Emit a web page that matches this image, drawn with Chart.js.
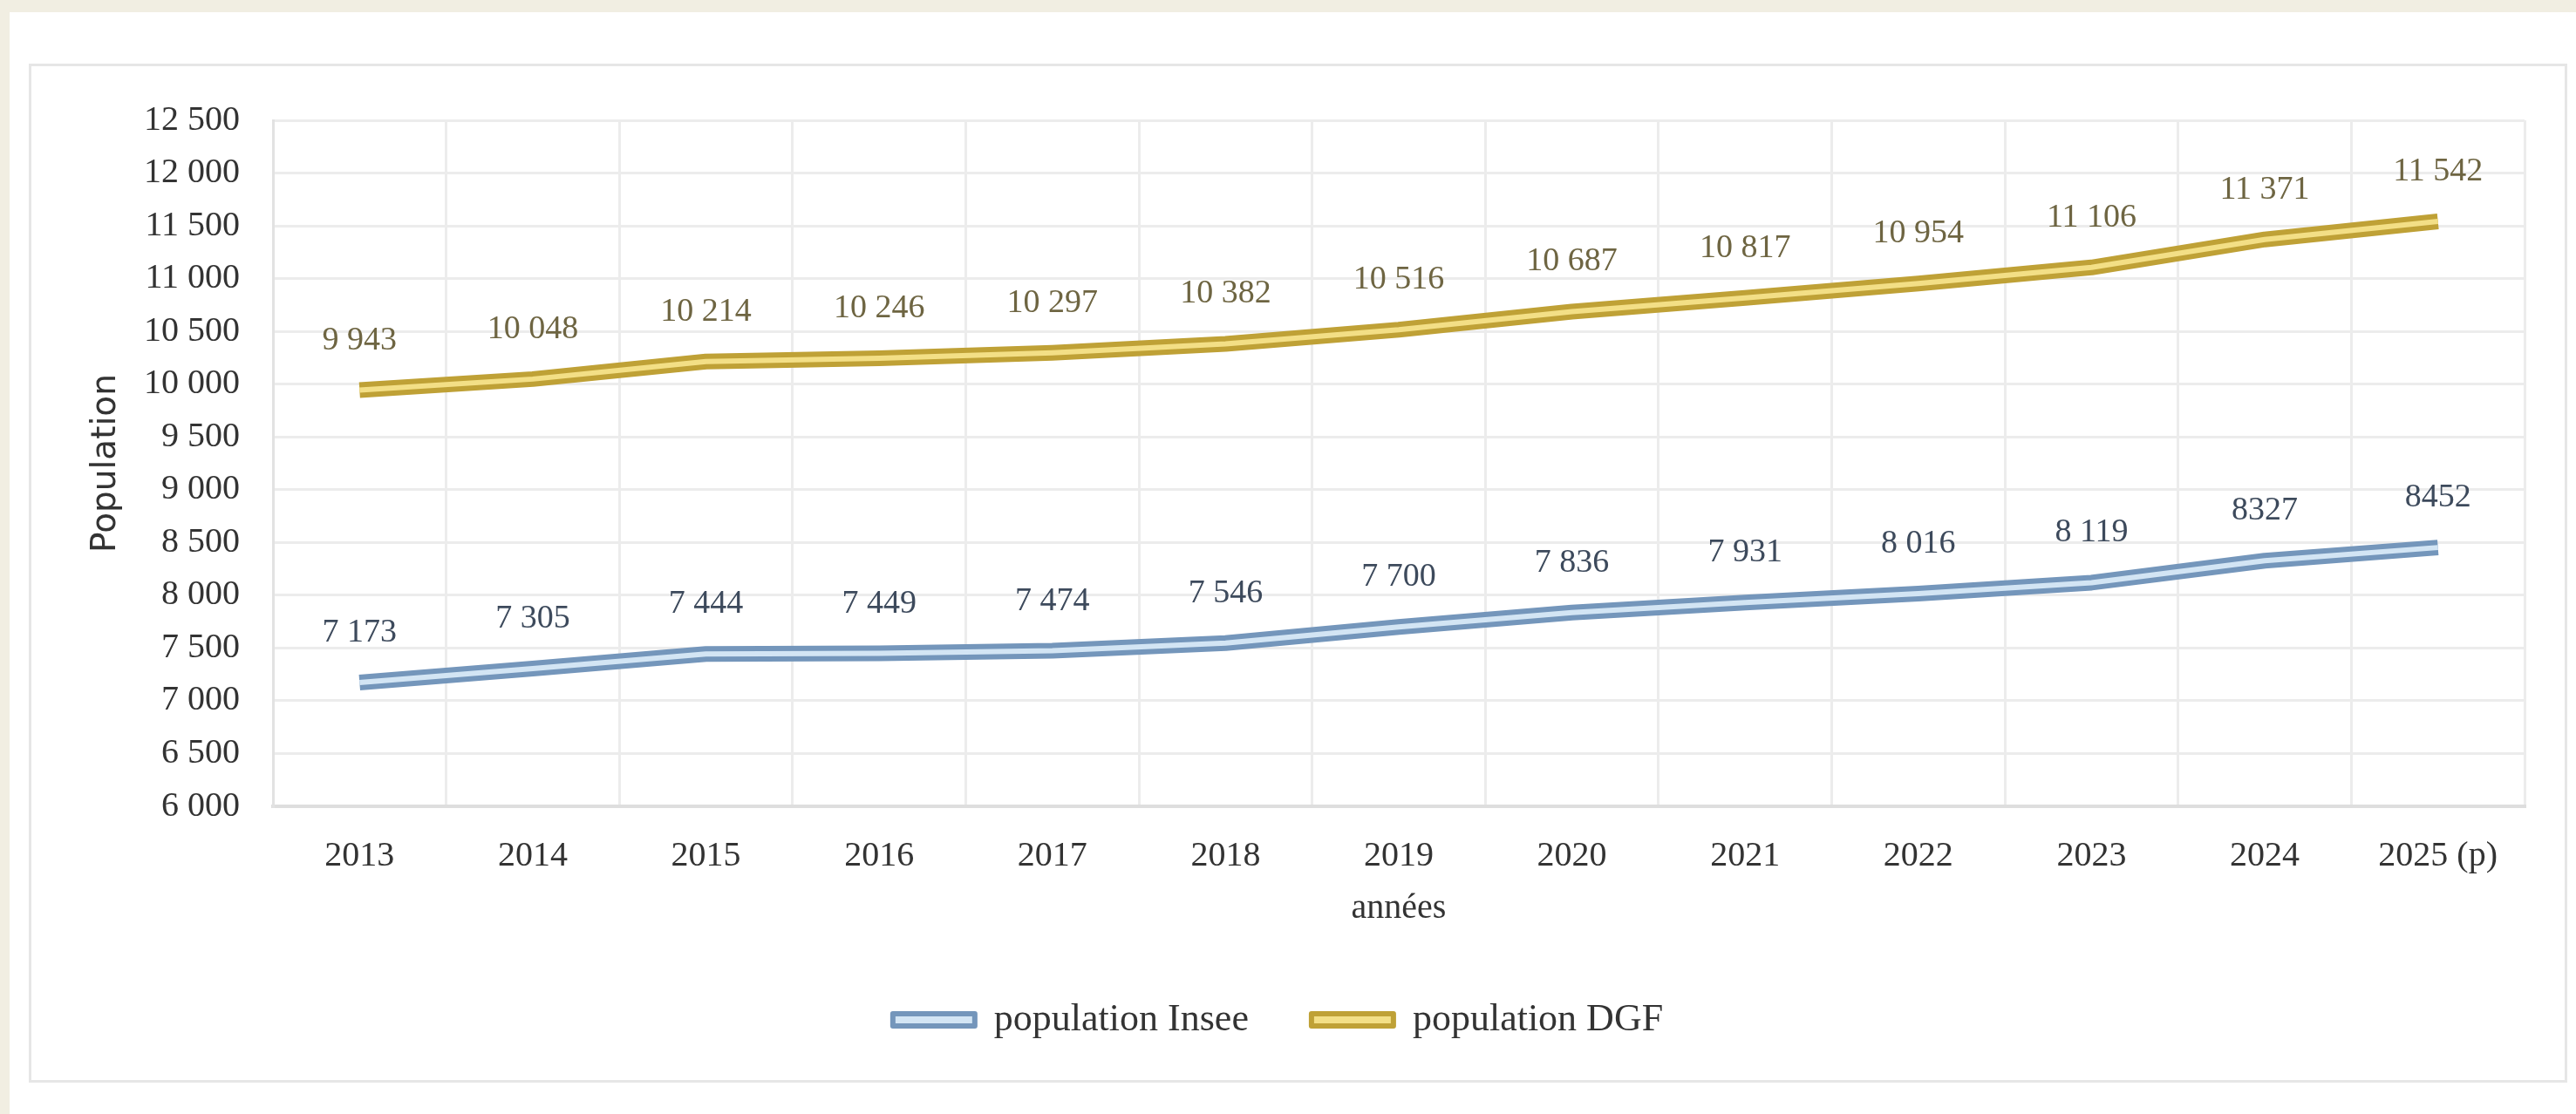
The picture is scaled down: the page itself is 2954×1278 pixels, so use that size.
<!DOCTYPE html>
<html lang="fr">
<head>
<meta charset="utf-8">
<title>Population Insee / DGF</title>
<script src="https://cdn.jsdelivr.net/npm/chart.js@4.4.1/dist/chart.umd.min.js"></script>
<style>
  html, body { margin: 0; padding: 0; }
  body { width: 2954px; height: 1278px; background: #f1eee2; position: relative; overflow: hidden; }
  #card { position: absolute; left: 11px; top: 14px; right: 0; bottom: 0; background: #fff; }
  #frame { position: absolute; left: 33px; top: 73px; width: 2905px; height: 1163px; border: 3px solid #e6e6e6; background: #fff; }
  #chart-wrap { position: absolute; left: 0; top: 0; width: 2905px; height: 1163px; }
</style>
</head>
<body>
<div id="card"></div>
<div id="frame">
  <div id="chart-wrap"><canvas id="popChart"></canvas></div>
</div>
<script>
// données
const years = ['2013', '2014', '2015', '2016', '2017', '2018', '2019', '2020', '2021', '2022', '2023', '2024', '2025 (p)'];
const popInsee = [7173, 7305, 7444, 7449, 7474, 7546, 7700, 7836, 7931, 8016, 8119, 8327, 8452];
const popDGF = [9943, 10048, 10214, 10246, 10297, 10382, 10516, 10687, 10817, 10954, 11106, 11371, 11542];
const inseeLabels = ['7 173', '7 305', '7 444', '7 449', '7 474', '7 546', '7 700', '7 836', '7 931', '8 016', '8 119', '8327', '8452'];
const dgfLabels = ['9 943', '10 048', '10 214', '10 246', '10 297', '10 382', '10 516', '10 687', '10 817', '10 954', '11 106', '11 371', '11 542'];
const yMin = 6000;
const yMax = 12500;
const yStep = 500;

const serif = '"Liberation Serif", "Times New Roman", serif';

// petits chiffres au-dessus des points
const valueLabels = {
  id: 'valueLabels',
  afterDatasetsDraw(chart) {
    const ctx = chart.ctx;
    chart.data.datasets.forEach((ds, i) => {
      if (!ds.valueText) return;
      const meta = chart.getDatasetMeta(i);
      ctx.save();
      ctx.font = '38px ' + serif;
      ctx.fillStyle = ds.valueColor;
      ctx.textAlign = 'center';
      ctx.textBaseline = 'middle';
      meta.data.forEach((pt, j) => {
        ctx.fillText(ds.valueText[j], pt.x, pt.y - 57);
      });
      ctx.restore();
    });
  },
};

const spaced = (v) => String(v).replace(/\B(?=(\d{3})+(?!\d))/g, ' ');

new Chart(document.getElementById('popChart'), {
  type: 'line',
  data: {
    labels: years,
    datasets: [
      // trait extérieur (foncé)
      {
        label: 'population Insee',
        data: popInsee,
        borderColor: '#7496bb',
        legendFill: '#d3e5f4',
        borderWidth: 18,
        pointRadius: 0,
        order: 2,
        valueText: inseeLabels,
        valueColor: '#3d4a5c',
      },
      {
        label: 'population DGF',
        data: popDGF,
        borderColor: '#bfa136',
        legendFill: '#f3df86',
        borderWidth: 18,
        pointRadius: 0,
        order: 2,
        valueText: dgfLabels,
        valueColor: '#6e6542',
      },
      // trait intérieur (clair)
      {
        label: 'insee-inner',
        data: popInsee,
        borderColor: '#d3e5f4',
        borderWidth: 6,
        pointRadius: 0,
        order: 1,
        inner: true,
      },
      {
        label: 'dgf-inner',
        data: popDGF,
        borderColor: '#f3df86',
        borderWidth: 6,
        pointRadius: 0,
        order: 1,
        inner: true,
      },
    ],
  },
  options: {
    responsive: true,
    maintainAspectRatio: false,
    animation: false,
    layout: { padding: { left: 0, right: 46, top: 52, bottom: 37 } },
    elements: { line: { tension: 0, borderJoinStyle: 'round', borderCapStyle: 'butt' } },
    scales: {
      x: {
        offset: true,
        grid: { offset: true, color: '#ececec', lineWidth: 3, drawTicks: false },
        border: { display: true, color: '#dedede', width: 4 },
        ticks: { padding: 33, color: '#333', font: { family: serif, size: 40 } },
        title: {
          display: true,
          text: 'années',
          color: '#333',
          font: { family: serif, size: 40 },
          padding: { top: 0, bottom: 10 },
        },
        afterFit(scale) { scale.height = 151; },
      },
      y: {
        min: yMin,
        max: yMax,
        grid: { color: '#ececec', lineWidth: 3, drawTicks: false },
        border: { display: true, color: '#e2e2e2', width: 3 },
        ticks: {
          stepSize: yStep,
          padding: 38,
          color: '#333',
          font: { family: serif, size: 40 },
          callback: (v) => spaced(v),
        },
        title: {
          display: true,
          text: 'Population',
          color: '#333',
          font: { family: '"DejaVu Sans", sans-serif', size: 39 },
          padding: { top: 62, bottom: 0 },
        },
        afterFit(scale) { scale.width = 277; },
      },
    },
    plugins: {
      tooltip: { enabled: false },
      legend: {
        position: 'bottom',
        labels: {
          boxWidth: 94,
          boxHeight: 14,
          padding: 72,
          color: '#333',
          font: { family: serif, size: 44 },
          generateLabels(chart) {
            const items = Chart.defaults.plugins.legend.labels.generateLabels(chart);
            return items
              .filter((it) => !chart.data.datasets[it.datasetIndex].inner)
              .map((it) => {
                const ds = chart.data.datasets[it.datasetIndex];
                it.fillStyle = ds.legendFill;
                it.strokeStyle = ds.borderColor;
                it.lineWidth = 6;
                return it;
              });
          },
        },
      },
    },
  },
  plugins: [valueLabels],
});
</script>
</body>
</html>
